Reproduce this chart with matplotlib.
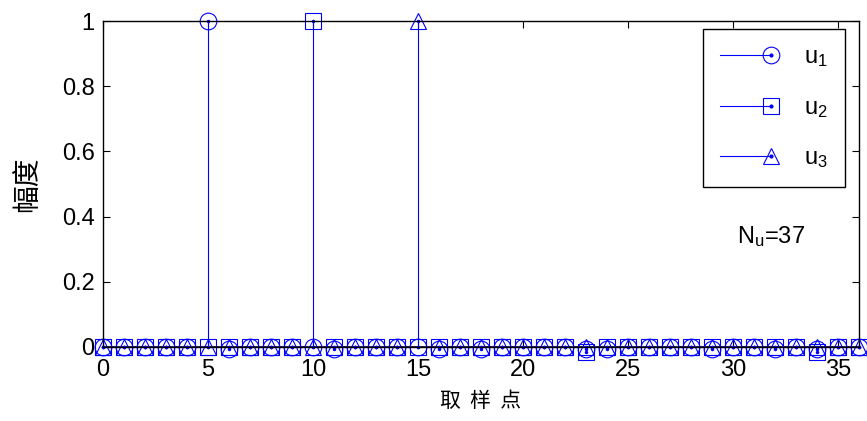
import numpy as np
import matplotlib
matplotlib.use("Agg")
import matplotlib.pyplot as plt
from matplotlib.lines import Line2D
from matplotlib.legend_handler import HandlerBase
from matplotlib.ticker import FormatStrFormatter

plt.rcParams["font.family"] = ["Liberation Sans", "Noto Sans CJK SC", "DejaVu Sans"]
plt.rcParams["mathtext.fontset"] = "custom"
plt.rcParams["mathtext.rm"] = "Liberation Sans"
plt.rcParams["mathtext.it"] = "Liberation Sans"

# sample index and the three unit-pulse sequences
n = list(range(37))
u1 = [0, 0, 0, 0, 0, 1, -0.006, 0, 0, 0, 0, -0.006, 0, 0, 0, 0, -0.006, 0,
      -0.006, 0, 0, 0, 0, -0.006, -0.006, 0, 0, 0, 0, -0.006, 0, 0, -0.006, 0,
      -0.006, 0, 0]
u2 = [0, 0, 0, 0, 0, 0, 0, 0, 0, 0, 1, 0, 0, 0, 0, 0, 0, 0, 0, 0, 0, 0, 0,
      -0.015, 0, 0, 0, 0, 0, 0, 0, 0, 0, 0, -0.015, 0, 0]
u3 = [0, 0, 0, 0, 0, 0, 0, 0, 0, 0, 0, 0, 0, 0, 0, 1, 0, 0, 0, 0, 0, 0, 0,
      0, 0, 0, 0, 0, 0, 0, 0, 0, 0, 0, 0, 0, 0]
series = [(u1, "o", r"$\mathregular{u_1}$"),
          (u2, "s", r"$\mathregular{u_2}$"),
          (u3, "^", r"$\mathregular{u_3}$")]
Nu = len(n)

BLUE = "#0000ff"


class StemHandler(HandlerBase):
    """Legend entry: a line with the stem marker sitting at its right end."""

    def create_artists(self, legend, orig, xdescent, ydescent, width,
                       height, fontsize, trans):
        y = height / 2 - ydescent
        x1 = width - xdescent
        line = Line2D([-xdescent, x1], [y, y], color=BLUE, lw=0.8,
                      transform=trans)
        mk = Line2D([x1], [y], marker=orig.get_marker(), ms=orig.get_markersize(),
                    mfc="none", mec=BLUE, mew=0.8, ls="none", transform=trans)
        dot = Line2D([x1], [y], marker=".", ms=4, color=BLUE, ls="none",
                     transform=trans)
        return [line, mk, dot]


fig = plt.figure(figsize=(8.67, 4.21), dpi=100)
ax = fig.add_axes([0.1188, 0.1758, 0.872, 0.774])

handles = []
for y, m, lab in series:
    ml, sl, bl = ax.stem(n, y, linefmt="-", markerfmt=m, basefmt=" ")
    sl.set_color(BLUE)
    sl.set_linewidth(0.8)
    ml.set_markerfacecolor("none")
    ml.set_markeredgecolor(BLUE)
    ml.set_markeredgewidth(0.8)
    ml.set_markersize(12)
    ml.set_clip_on(False)
    sl.set_clip_on(False)
    ax.plot(n, y, ".", color=BLUE, ms=3, clip_on=False)
    handles.append(ml)

ax.axhline(0, color="black", lw=1.2, zorder=1)

ax.set_xlim(0, 36)
ax.set_ylim(0, 1)
ax.set_xticks(range(0, 36, 5))
ax.set_yticks(np.arange(0, 1.01, 0.2))
ax.yaxis.set_major_formatter(FormatStrFormatter("%g"))
ax.tick_params(direction="in", length=5, width=0.8, top=True, right=True,
               labelsize=17)
ax.tick_params(axis="x", pad=9)
ax.tick_params(axis="y", pad=6)
for s in ax.spines.values():
    s.set_linewidth(1.0)

ax.set_xlabel("取  样  点", family=["Noto Sans CJK SC"], fontsize=15,
              labelpad=6, fontweight="light")
ax.set_ylabel("幅度", family=["Noto Sans CJK SC"], fontsize=20,
              labelpad=14, fontweight="light")

ax.text(30.2, 0.34, r"$\mathregular{N_u}$=%d" % Nu, fontsize=17, va="center")

leg = ax.legend(handles, [s[2] for s in series],
                handler_map={h: StemHandler() for h in handles},
                loc="upper right", bbox_to_anchor=(0.9815, 0.975),
                borderaxespad=0, fontsize=17, handlelength=2.15,
                handletextpad=1.4, labelspacing=1.17, borderpad=0.72,
                fancybox=False, framealpha=1, edgecolor="black")
leg.get_frame().set_linewidth(1.0)

fig.savefig("out.png", dpi=100)
